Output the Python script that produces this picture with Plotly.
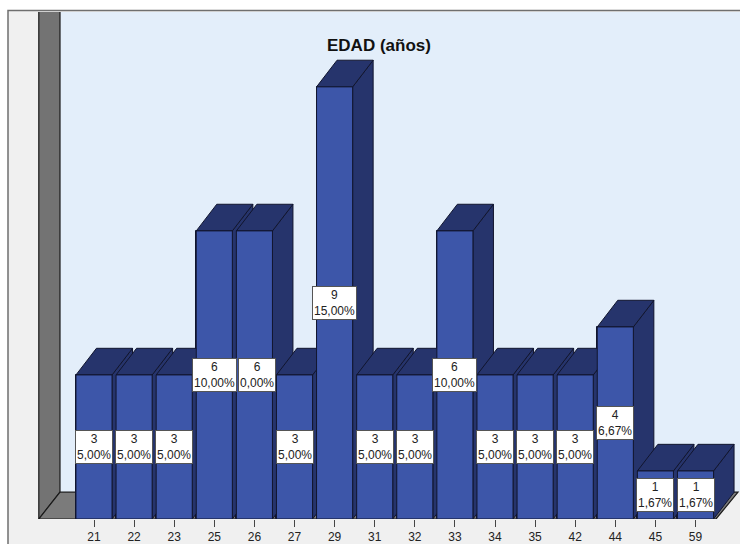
import plotly.graph_objects as go

# ---- data ----
ages = ["21", "22", "23", "25", "26", "27", "29", "31", "32", "33", "34", "35", "42", "44", "45", "59"]
counts = [3, 3, 3, 6, 6, 3, 9, 3, 3, 6, 3, 3, 3, 4, 1, 1]
pct_labels = ["5,00%", "5,00%", "5,00%", "10,00%", "0,00%", "5,00%", "15,00%", "5,00%",
              "5,00%", "10,00%", "5,00%", "5,00%", "5,00%", "6,67%", "1,67%", "1,67%"]
title_text = "EDAD (años)"

# ---- geometry / style ----
W, H = 740, 544
ML, MT, MB = 38, 12, 22
PLOT_W, PLOT_H = W - ML, H - MT - MB
PX_X, PX_Y = 40.1, 48.3          # pixels per category / per count unit
X0 = -(94 - ML) / PX_X
X1 = X0 + PLOT_W / PX_X
YMAX = PLOT_H / PX_Y
BAR_W = 0.9
BDX, BDY = 20.5 / PX_X, 26.8 / PX_Y   # bar depth offset
FDX, FDY = 22 / PX_X, 27 / PX_Y       # floor depth offset
XF = X0 + (716 - ML) / PX_X           # floor front right end

FRONT = "#3d56a9"
DARK = "#26346c"
EDGE = "#11152e"

n = len(counts)
xs = list(range(n))

fig = go.Figure()

# base bar trace (front faces)
fig.add_trace(go.Bar(x=xs, y=counts, width=BAR_W, marker=dict(color=FRONT, line=dict(color=EDGE, width=1)),
                     hoverinfo="skip", showlegend=False))


def poly(pts, color):
    px = [p[0] for p in pts] + [pts[0][0]]
    py = [p[1] for p in pts] + [pts[0][1]]
    return go.Scatter(x=px, y=py, mode="lines", fill="toself", fillcolor=color,
                      line=dict(color=EDGE, width=1), hoverinfo="skip", showlegend=False)


# pseudo-3D faces, drawn left to right so nearer bars occlude
for i, v in zip(xs, counts):
    xl, xr = i - BAR_W / 2, i + BAR_W / 2
    fig.add_trace(poly([(xr, 0), (xr + BDX, BDY), (xr + BDX, v + BDY), (xr, v)], DARK))
    fig.add_trace(poly([(xl, v), (xr, v), (xr + BDX, v + BDY), (xl + BDX, v + BDY)], DARK))
    fig.add_trace(poly([(xl, 0), (xr, 0), (xr, v), (xl, v)], FRONT))

shapes = [
    # outer frame
    dict(type="rect", xref="paper", yref="paper", layer="below",
         x0=(8 - ML) / PLOT_W, x1=(W + 5 - ML) / PLOT_W,
         y0=-(H + 5 - (H - MB)) / PLOT_H, y1=((H - MB) - 10.5) / PLOT_H,
         fillcolor="#f0f0f0", line=dict(color="#6f6f6f", width=1.5)),
    # back wall
    dict(type="rect", xref="x", yref="y", layer="below",
         x0=X0 + FDX, x1=X1 + 1, y0=FDY, y1=YMAX + 1,
         fillcolor="#e3eefa", line=dict(width=0)),
    # left wall
    dict(type="path", xref="x", yref="y", layer="below",
         path=f"M {X0 + 0.02},0 L {X0 + 0.02},{YMAX + 1} L {X0 + FDX},{YMAX + 1} L {X0 + FDX},{FDY} Z",
         fillcolor="#737373", line=dict(color="#1a1a1a", width=1.2)),
    # floor
    dict(type="path", xref="x", yref="y", layer="below",
         path=f"M {X0 + 0.02},0 L {X0 + FDX},{FDY} L {XF + FDX},{FDY} L {XF},0 Z",
         fillcolor="#7b7b7b", line=dict(color="#1a1a1a", width=1.2)),
]

annotations = [
    dict(xref="paper", yref="paper", x=(379 - ML) / PLOT_W, y=((H - MB) - 46) / PLOT_H,
         text=f"<b>{title_text}</b>", showarrow=False, xanchor="center", yanchor="middle",
         font=dict(family="Liberation Sans, Arial", size=17, color="#111111")),
]
for i, (c, p) in enumerate(zip(counts, pct_labels)):
    annotations.append(dict(
        x=i, y=c / 2, xref="x", yref="y", text=f"{c}<br>{p}", showarrow=False,
        xshift=3 if p == "0,00%" else 0,
        bgcolor="white", bordercolor="#555555", borderwidth=1, borderpad=1,
        font=dict(family="Liberation Sans, Arial", size=12, color="#222222")))

fig.update_layout(
    width=W, height=H,
    margin=dict(l=ML, r=0, t=MT, b=MB, pad=0),
    paper_bgcolor="white", plot_bgcolor="rgba(0,0,0,0)",
    shapes=shapes, annotations=annotations,
    bargap=0, showlegend=False,
    xaxis=dict(range=[X0, X1], tickvals=xs, ticktext=ages, ticks="outside", ticklen=7,
               tickcolor="#444444", tickwidth=1, showgrid=False, zeroline=False, showline=False,
               tickfont=dict(family="Liberation Sans, Arial", size=12, color="#222222"), fixedrange=True),
    yaxis=dict(range=[0, YMAX], visible=False, showgrid=False, zeroline=False, fixedrange=True),
)

fig.write_html("out.html")
